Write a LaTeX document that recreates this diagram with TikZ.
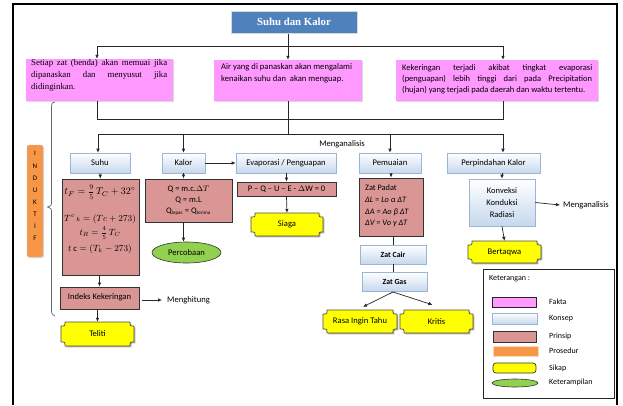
\documentclass[tikz,border=0pt]{standalone}
\usepackage{amsmath}
\usepackage{fontspec}
\setmainfont{Carlito}
\newfontfamily\serifT{Liberation Serif}
\usetikzlibrary{arrows.meta,shapes.geometric,shadows,calc}
\definecolor{fakta}{HTML}{FF99FF}
\definecolor{konsepF}{HTML}{C6D8EE}
\definecolor{konsepB}{HTML}{9BB5D6}
\definecolor{prinsipF}{HTML}{D99694}
\definecolor{sikapF}{HTML}{FFFF00}
\definecolor{keterF}{HTML}{92D050}
\definecolor{prosF}{HTML}{F79646}
\definecolor{titleF}{HTML}{4F81BD}
\newcommand\myfs[2]{\fontsize{#1}{#2}\selectfont}
\newcommand\myfrac[2]{\tfrac{\raisebox{1.2pt}{$\scriptstyle #1$}}{\raisebox{-1.2pt}{$\scriptstyle #2$}}}
\newcommand\sikapnode[6]{%
 \pgfmathsetmacro\sxl{#2-#4/2}\pgfmathsetmacro\sxr{#2+#4/2}%
 \pgfmathsetmacro\syt{#3-#5/2}\pgfmathsetmacro\syb{#3+#5/2}%
 \filldraw[fill=black!30, draw=none] (\sxl+5,\syt+1.3) -- (\sxr-2.7,\syt+1.3) .. controls (\sxr-2.7,\syt+5.3) .. (\sxr+1.3,\syt+5.3) -- (\sxr+1.3,\syb-2.7) .. controls (\sxr-2.7,\syb-2.7) .. (\sxr-2.7,\syb+1.3) -- (\sxl+5.3,\syb+1.3) -- cycle;
 \filldraw[fill=sikapF, draw=black!70, line width=0.7pt] (\sxl+4,\syt) -- (\sxr-4,\syt) .. controls (\sxr-4,\syt+4) .. (\sxr,\syt+4) -- (\sxr,\syb-4) .. controls (\sxr-4,\syb-4) .. (\sxr-4,\syb) -- (\sxl+4,\syb) .. controls (\sxl+4,\syb-4) .. (\sxl,\syb-4) -- (\sxl,\syt+4) .. controls (\sxl+4,\syt+4) .. (\sxl+4,\syt) -- cycle;
 \node[inner sep=0pt, minimum width=#4, minimum height=#5, font=\myfs{8.6}{10}] (#1) at (#2,#3) {#6};}
\tikzset{
 sz/.style 2 args={minimum width=#1, minimum height=#2, inner sep=0pt},
 shad/.style={drop shadow={shadow xshift=1pt, shadow yshift=-1pt, opacity=0.3}},
 faktabox/.style={fill=fakta, inner sep=0pt, shad},
 konsep/.style={draw=konsepB, line width=0.6pt, top color=white, bottom color=konsepF, inner sep=0pt, font=\myfs{8.6}{10}, shad},
 prinsip/.style={draw=black!80, line width=0.8pt, fill=prinsipF, inner sep=0pt},
 ellip/.style={ellipse, draw=black!80, fill=keterF, inner sep=0pt, line width=0.6pt},
 arr/.style={-{Latex[length=4pt,width=3.6pt]}, line width=0.7pt, draw=black!85},
 ln/.style={line width=0.7pt, draw=black!85},
 lbl/.style={font=\myfs{8.6}{10}, inner sep=0pt},
}
\begin{document}
\begin{tikzpicture}[x=1pt,y=-1pt]
\useasboundingbox (0,0) rectangle (623,405);
% frame
\draw[line width=2.6pt] (13,405) -- (13,4) -- (617,4) -- (617,405);

% title
\node[fill=titleF, draw=black!15, line width=1pt, sz={126}{22}, text=white, font=\serifT\bfseries\myfs{10.8}{12}, shad] (title) at (294,22) {Suhu dan Kalor};

% fakta boxes
\node[faktabox, sz={147}{42}] (fl) at (99.5,80) {};
\node[faktabox, sz={148}{41}] (fm) at (288,80.5) {};
\node[faktabox, sz={202}{41}] (fr) at (497,80.5) {};
\node[anchor=north west, inner sep=0pt, text width=136, align=justify, font=\serifT\myfs{8.8}{11.6}] (flt) at (31,59.5) {Setiap zat (benda) akan memuai jika\linebreak dipanaskan dan menyusut jika\linebreak didinginkan.};
\node[anchor=north west, inner sep=0pt, align=left, font=\myfs{8.6}{12.4}] (fmt) at (221,63) {Air yang di panaskan akan mengalami\\kenaikan suhu dan\ \ akan menguap.};
\node[anchor=north west, inner sep=0pt, text width=190, align=justify, font=\myfs{8.5}{11}] (frt) at (402,64.5) {Kekeringan terjadi akibat tingkat evaporasi\linebreak (penguapan) lebih tinggi dari pada Precipitation\linebreak (hujan) yang terjadi pada daerah dan waktu tertentu.};

% top connectors
\coordinate (tL) at (97,46);
\coordinate (tR) at (503,46);
\draw[arr] (fm.north |- title.south) -- (fm.north);
\draw[ln] (tL) -- (tR);
\draw[arr] (tL) -- (tL |- fl.north);
\draw[arr] (tR) -- (tR |- fr.north);

% concept row
\node[konsep, sz={60}{20}] (suhu) at (100,163) {Suhu};
\node[konsep, sz={43}{20}] (kalor) at (183.5,163) {Kalor};
\node[konsep, sz={100}{20}] (evap) at (286,163) {Evaporasi / Penguapan};
\node[konsep, sz={62}{20}] (pemuaian) at (390,163) {Pemuaian};
\node[konsep, sz={93}{20}] (perp) at (493.5,163) {Perpindahan Kalor};

% middle connectors
\coordinate (hL) at (97,119);
\coordinate (hR) at (503,119);
\draw[ln] (hL |- fl.south) -- (hL) -- (hR) -- (hR |- fr.south);
\coordinate (bL) at (98,134);
\coordinate (bR) at (503,134);
\draw[ln] (fm.south) -- (fm.south |- bL);
\draw[ln] (bL) -- (bR);
\draw[arr] (bL) -- (bL |- suhu.north);
\draw[arr] (kalor.north |- bL) -- (kalor.north);
\draw[arr] (pemuaian.north |- bL) -- (pemuaian.north);
\draw[arr] (bR) -- (bR |- perp.north);
\node[lbl] (mg1) at (342,144) {Menganalisis};
\draw[arr] (kalor.east) -- (evap.west);

% prinsip boxes
\node[prinsip, sz={77}{96}] (suhuP) at (100.5,227) {};
\node[inner sep=0pt, font=\myfs{10}{12}] (f1) at (100,192) {$t_F = \myfrac{9}{5}\,T_C + 32^{\circ}$};
\node[inner sep=0pt, font=\myfs{8.6}{10}] (f2) at (100,219) {$T^{\circ}{\scriptstyle\,k} = (Tc + 273)$};
\node[inner sep=0pt, font=\myfs{9}{10}] (f3) at (100,233) {$t_R = \myfrac{4}{5}\,T_C$};
\node[inner sep=0pt, font=\myfs{8.6}{10}] (f4) at (100,249) {$t\ \mathrm{c} = (T_k - 273)$};

\node[prinsip, sz={87}{43}, align=center, font=\myfs{8.5}{11}] (kalorP) at (188.5,200.5) {Q = m.c.$\Delta T$\\Q = m.L\\Q\textsubscript{\myfs{5}{5}lepas} = Q\textsubscript{\myfs{5}{5}terima}};
\node[prinsip, sz={99}{14}, font=\myfs{8.5}{10}] (evapP) at (286.5,189) {P -- Q -- U -- E - $\Delta$W = 0};
\node[prinsip, sz={64}{58}] (pemP) at (391,207) {};
\node[anchor=west, inner sep=0pt, align=left, font=\myfs{8.3}{11.7}] (pemT) at (365,206) {Zat Padat\\\textit{ΔL = Lo α ΔT}\\\textit{ΔA = Ao β ΔT}\\\textit{ΔV = Vo γ ΔT}};
\node[konsep, sz={66}{47}, align=center, font=\myfs{8.5}{12}] (konv) at (502,202.5) {Konveksi\\Konduksi\\Radiasi};

\draw[arr] (suhu.south) -- (suhuP.north);
\draw[arr] (kalor.south) -- (kalor.south |- kalorP.north);
\draw[arr] (evapP.north |- evap.south) -- (evapP.north);
\draw[arr] (pemuaian.south -| pemP.north) -- (pemP.north);
\draw[arr] (konv.north |- perp.south) -- (konv.north);

% sikap / keterampilan
\sikapnode{siaga}{287}{224.5}{72}{23}{Siaga}
\node[ellip, sz={69}{21}, font=\myfs{8.6}{10}] (perc) at (186.5,252.5) {Percobaan};
\sikapnode{bertaqwa}{504.5}{252}{73}{22}{Bertaqwa}
\draw[arr] (kalor.south |- kalorP.south) -- (kalor.south |- perc.north);
\draw[arr] (evapP.south) -- (siaga.north);
\draw[arr] (konv.south) -- (bertaqwa.north);
\node[lbl, anchor=west] (mg2) at (563,205) {Menganalisis};
\draw[arr] (konv.east) -- ($(mg2.west)+(-3,0)$);

% indeks
\node[prinsip, sz={79}{22}, font=\myfs{8.6}{10}] (indeks) at (99.5,298) {\raisebox{3pt}{Indeks Kekeringan}};
\draw[arr] (suhuP.south -| indeks.north) -- (indeks.north);
\node[lbl, anchor=west] (hit) at (167,300) {Menghitung};
\coordinate (ie) at (142,300);
\draw[arr] (ie) -- ($(hit.west)+(-5,0)$);
\sikapnode{teliti}{97.5}{334}{73}{24}{Teliti}
\draw[arr] (indeks.south -| teliti.north) -- (teliti.north);

% zat cair / gas
\node[konsep, sz={66}{19}, font=\bfseries\myfs{7.8}{10}] (cair) at (393,254.5) {Zat Cair};
\node[konsep, sz={65}{19}, font=\bfseries\myfs{7.8}{10}] (gas) at (394.5,281.5) {Zat Gas};
\draw[ln] (pemP.south -| cair.north) -- (cair.north);
\draw[ln] (cair.south) -- (cair.south |- gas.north);
\sikapnode{rasa}{360}{321.5}{74}{23}{Rasa Ingin Tahu}
\sikapnode{kritis}{436.5}{321.5}{73}{23}{Kritis}
\coordinate (gsb) at (393,292);
\draw[arr] (gsb) -- ($(rasa.north)+(3,-3)$);
\draw[arr] (gsb) -- ($(kritis.north)+(-4,-5)$);

% induktif + brace
\node[fill=prosF, draw=black!20, rounded corners=2pt, sz={16}{112}, shad] (induk) at (35,201) {};
\node[inner sep=0pt, align=center, font=\myfs{7}{12.1}] (indukT) at (35,196) {I\\N\\D\\U\\K\\T\\I\\F};
\coordinate (brT) at (55,102);
\coordinate (brB) at (55,316);
\draw[black!60, line width=0.7pt] (brT) .. controls (51.5,103) .. (51.5,110) -- (51.5,201) .. controls (51.5,205.5) .. (47.5,207) .. controls (51.5,208.5) .. (51.5,213) -- (51.5,308) .. controls (51.5,314) .. (brB);

% legend
\node[draw=black!85, line width=0.8pt, sz={131}{129}] (leg) at (548.5,333.5) {};
\node[lbl, anchor=west, font=\myfs{8}{10}] (ket) at (489,279) {Keterangan :};
\node[fill=fakta, draw=black!85, line width=0.7pt, sz={44}{10}] (lf) at (514,302) {};
\node[konsep, sz={45}{11}] (lk) at (514.5,318.5) {};
\node[prinsip, sz={43}{11}] (lp) at (514.5,336.5) {};
\node[fill=prosF, draw=prosF!35, line width=1pt, sz={45}{10}] (lpr) at (516,351.5) {};
\node[fill=sikapF, draw=black!80, line width=0.7pt, rounded corners=3pt, sz={43}{10}] (ls) at (514.5,368) {};
\node[ellip, sz={46}{8}] (le) at (515,383) {};
\node[lbl, anchor=west, font=\myfs{8}{10}] (tf) at (549,302) {Fakta};
\node[lbl, anchor=west, font=\myfs{8}{10}] (tk) at (549,319) {Konsep};
\node[lbl, anchor=west, font=\myfs{8}{10}] (tp) at (549,336) {Prinsip};
\node[lbl, anchor=west, font=\myfs{8}{10}] (tpr) at (549,351) {Prosedur};
\node[lbl, anchor=west, font=\myfs{8}{10}] (ts) at (549,368) {Sikap};
\node[lbl, anchor=west, font=\myfs{8}{10}] (te) at (549,382) {Keterampilan};
\end{tikzpicture}
\end{document}
